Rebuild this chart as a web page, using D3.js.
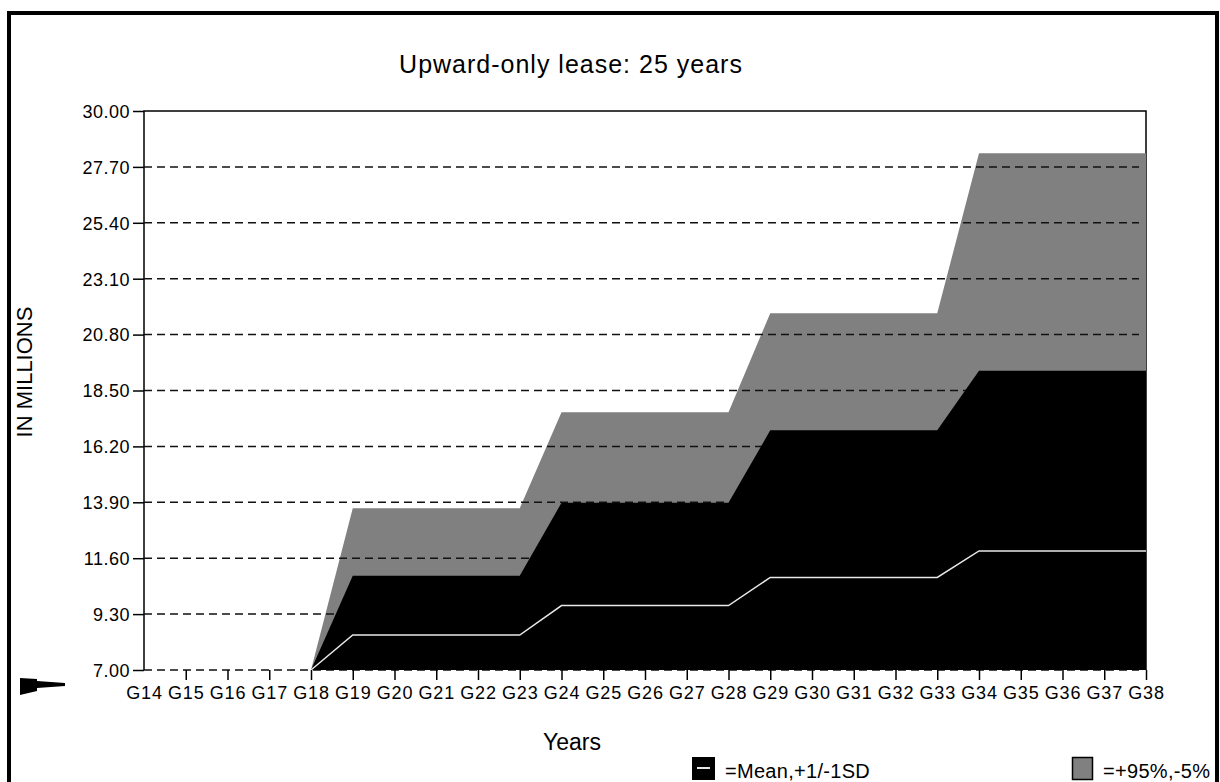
<!DOCTYPE html>
<html>
<head>
<meta charset="utf-8">
<script src="https://cdn.jsdelivr.net/npm/d3@7"></script>
<style>
  body { margin: 0; background: #fff; }
  svg text { font-family: "Liberation Sans", Arial, sans-serif; fill: #000; }
</style>
</head>
<body>
<svg width="1220" height="782"></svg>
<script>
// categories along the x axis
var years = ["G14","G15","G16","G17","G18","G19","G20","G21","G22","G23","G24","G25","G26",
             "G27","G28","G29","G30","G31","G32","G33","G34","G35","G36","G37","G38"];

// series values, in millions (null = no value that year)
var upper95 = [null,null,null,null,7.00,13.66,13.66,13.66,13.66,13.66,17.60,17.60,17.60,
               17.60,17.60,21.68,21.68,21.68,21.68,21.68,28.26,28.26,28.26,28.26,28.26];
var upperSD = [null,null,null,null,7.00,10.88,10.88,10.88,10.88,10.88,13.88,13.88,13.88,
               13.88,13.88,16.86,16.86,16.86,16.86,16.86,19.31,19.31,19.31,19.31,19.31];
var mean    = [null,null,null,null,7.00,8.44,8.44,8.44,8.44,8.44,9.65,9.65,9.65,
               9.65,9.65,10.81,10.81,10.81,10.81,10.81,11.90,11.90,11.90,11.90,11.90];

// y tick labels
var yTicks = [7.00, 9.30, 11.60, 13.90, 16.20, 18.50, 20.80, 23.10, 25.40, 27.70, 30.00];

const svg = d3.select("svg");

const pLeft = 144, pRight = 1146, pTop = 111, pBottom = 670;

const x = d3.scalePoint().domain(years).range([pLeft, pRight]);
const y = d3.scaleLinear().domain([7, 30]).range([pBottom, pTop]);

// outer frame
svg.append("rect")
  .attr("x", 9).attr("y", 13)
  .attr("width", 1208).attr("height", 800)
  .attr("fill", "none")
  .attr("stroke", "#000")
  .attr("stroke-width", 4);

// title
svg.append("text")
  .attr("x", 571).attr("y", 73)
  .attr("text-anchor", "middle")
  .style("font-size", "25px")
  .style("letter-spacing", "1px")
  .text("Upward-only lease: 25 years");

// plot frame: left, top, right
svg.append("path")
  .attr("d", `M${pLeft},${pBottom}V${pTop}H${pRight}V${pBottom}`)
  .attr("fill", "none")
  .attr("stroke", "#000")
  .attr("stroke-width", 1.5);

const rows = years.map((g, i) => ({ g, hi: upper95[i], sd: upperSD[i], m: mean[i] }))
  .filter(d => d.hi !== null);

const grayArea = d3.area()
  .x(d => x(d.g))
  .y0(y(7))
  .y1(d => y(d.hi));

const blackArea = d3.area()
  .x(d => x(d.g))
  .y0(y(7))
  .y1(d => y(d.sd));

const meanLine = d3.line()
  .x(d => x(d.g))
  .y(d => y(d.m));

svg.append("path").datum(rows).attr("d", grayArea).attr("fill", "#808080");

// dashed grid lines
svg.append("g")
  .selectAll("line")
  .data(yTicks.filter(t => t < 30))
  .join("line")
  .attr("x1", pLeft).attr("x2", pRight - 7)
  .attr("y1", d => y(d)).attr("y2", d => y(d))
  .attr("stroke", "#111")
  .attr("stroke-width", 1.5)
  .attr("stroke-dasharray", "8,5");

svg.append("path").datum(rows).attr("d", blackArea).attr("fill", "#000");

svg.append("path").datum(rows)
  .attr("d", meanLine)
  .attr("fill", "none")
  .attr("stroke", "#e8e8e8")
  .attr("stroke-width", 1.5);

// y axis
const yAxis = svg.append("g")
  .attr("transform", `translate(${pLeft},0)`)
  .call(d3.axisLeft(y).tickValues(yTicks).tickFormat(d3.format(".2f")).tickSize(11).tickPadding(3));
yAxis.select(".domain").remove();
yAxis.selectAll(".tick line").attr("stroke-width", 1.5);
yAxis.selectAll(".tick text").style("font-size", "18px").style("letter-spacing", "0.5px")
  .attr("dy", "0.35em");

// x axis
const xAxis = svg.append("g")
  .attr("transform", `translate(0,${pBottom})`)
  .call(d3.axisBottom(x).tickSize(10).tickPadding(6));
xAxis.select(".domain").remove();
xAxis.selectAll(".tick line").attr("stroke-width", 1.5)
  .attr("display", d => d === "G14" ? "none" : null);
xAxis.selectAll(".tick text").style("font-size", "18px").style("letter-spacing", "0.8px");

// axis titles
svg.append("text")
  .attr("x", 572).attr("y", 750)
  .attr("text-anchor", "middle")
  .style("font-size", "23px")
  .text("Years");

svg.append("text")
  .attr("transform", "translate(32,372) rotate(-90)")
  .attr("text-anchor", "middle")
  .style("font-size", "22px")
  .text("IN MILLIONS");

// pointer at the lower left
svg.append("path")
  .attr("d", "M20,678L37,679L37,681L65,683L65,686L37,688L37,691L20,695Z")
  .attr("fill", "#000");

// legend
const leg1 = svg.append("g").attr("transform", "translate(692,757)");
leg1.append("rect").attr("width", 23).attr("height", 23).attr("fill", "#000");
leg1.append("line").attr("x1", 5).attr("x2", 18).attr("y1", 11).attr("y2", 11)
  .attr("stroke", "#e8e8e8").attr("stroke-width", 2);
leg1.append("text").attr("x", 33).attr("y", 21).style("font-size", "20px")
  .style("letter-spacing", "0.3px").text("=Mean,+1/-1SD");

const leg2 = svg.append("g").attr("transform", "translate(1072,757)");
leg2.append("rect").attr("x", 0.5).attr("y", 0.5).attr("width", 20).attr("height", 22)
  .attr("fill", "#808080").attr("stroke", "#000").attr("stroke-width", 1.5);
leg2.append("text").attr("x", 31).attr("y", 21).style("font-size", "20px")
  .style("letter-spacing", "0.3px").text("=+95%,-5%");
</script>
</body>
</html>
